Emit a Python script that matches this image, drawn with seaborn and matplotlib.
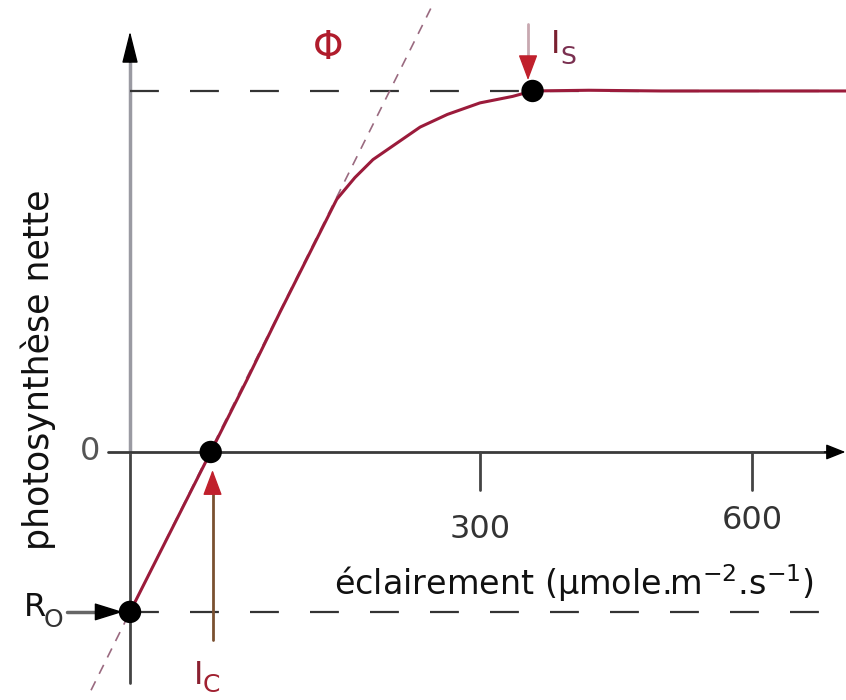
import numpy as np
import pandas as pd
import matplotlib
matplotlib.use('Agg')
import matplotlib.pyplot as plt
import seaborn as sns

# light response curve (schematic units)
irradiance = [-86, 3, 43, 79, 116, 142, 152, 162, 182, 208, 234, 264, 300,
              336, 358, 420, 500, 600, 704]
photosynthesis = [-4.43, 0.0, 2.0, 3.85, 5.7, 7.0, 7.3, 7.6, 8.1, 8.55, 9.0,
                  9.35, 9.67, 9.85, 10.0, 10.02, 10.0, 10.0, 10.0]

# initial slope (quantum yield) line
phi_x = [-129, 248]
phi_y = [-6.6, 12.4]

# remarkable points: R0, Ic, Is
key_names = ['R0', 'Ic', 'Is']
key_x = [-86, 3, 358]
key_y = [-4.43, 0.0, 10.0]

p_max = 10.0
x_ticks = [300, 600]
x_tick_labels = ['300', '600']
y_axis_x = -86

sns.set_theme(style="white")
plt.rcParams['font.family'] = ['DejaVu Sans']

curve_df = pd.DataFrame({'x': irradiance, 'y': photosynthesis})
phi_df = pd.DataFrame({'x': phi_x, 'y': phi_y})
pts_df = pd.DataFrame({'name': key_names, 'x': key_x, 'y': key_y})

fig = plt.figure(figsize=(8.46, 7), dpi=100)
ax = fig.add_axes([0, 0, 1, 1])
ax.set_xlim(-229.4, 703.7)
ax.set_ylim(-6.87, 12.52)
ax.axis('off')

dark = '#333333'
red = '#9b1b3b'


def head(color, length=0.8, width=0.3, scale=20):
    return dict(arrowstyle='-|>,head_length={},head_width={}'.format(length, width),
                lw=1, fc=color, ec=color, mutation_scale=scale,
                shrinkA=0, shrinkB=0)


# dashed reference levels
ax.plot([y_axis_x, 704], [p_max, p_max], color=dark, lw=1.6,
        dashes=(13, 14))
ax.plot([y_axis_x, 704], [key_y[0], key_y[0]], color=dark, lw=1.6,
        dashes=(13, 14))

# tangent line
sns.lineplot(data=phi_df, x='x', y='y', ax=ax, color='#9a6a80', lw=1.2,
             sort=False, legend=False)
ax.lines[-1].set_dashes((6, 5))

# axes
ax.plot([y_axis_x, y_axis_x], [-6.4, 0], color='#444444', lw=2, zorder=1)
ax.plot([y_axis_x, y_axis_x], [0, 11.0], color='#9a9aa2', lw=2.5, zorder=1)
ax.annotate('', xy=(y_axis_x, 11.65), xytext=(y_axis_x, 10.8),
            arrowprops=head('black', 1.0, 0.25))
ax.plot([-110, 690], [0, 0], color='#3a3a3a', lw=2, zorder=1)
ax.annotate('', xy=(703, 0), xytext=(680, 0),
            arrowprops=head('black', 0.6, 0.24))

for t, lab, ly in zip(x_ticks, x_tick_labels, [-2.16, -1.9]):
    ax.plot([t, t], [0, -1.05], color='#444444', lw=2)
    ax.text(t, ly, lab, ha='center', va='center', fontsize=23,
            color='#333333')

ax.text(-130, 0, '0', ha='center', va='center', fontsize=23, color='#555555')

# response curve
sns.lineplot(data=curve_df, x='x', y='y', ax=ax, color=red, lw=2.2,
             sort=False, legend=False)

sns.scatterplot(data=pts_df, x='x', y='y', ax=ax, color='black', s=260,
                edgecolor='none', zorder=5, legend=False)

# labels
ax.text(404, -3.63, 'éclairement (µmole.m$^{-2}$.s$^{-1}$)', ha='center',
        va='center', fontsize=24, color='#111111')
ax.text(-187, 2.27, 'photosynthèse nette', rotation=90, ha='center',
        va='center', fontsize=25, color='#111111')

ax.text(132, 11.19, 'Φ', ha='center', va='center', fontsize=28,
        color='#b01c2c')

# Is
ax.plot([key_x[2] - 5, key_x[2] - 5], [11.85, 10.8], color='#c8a8b0', lw=2)
ax.annotate('', xy=(key_x[2] - 5, 10.3), xytext=(key_x[2] - 5, 10.9),
            arrowprops=head('#c0202c'))
ax.text(383, 11.3, 'I', ha='center', va='center', fontsize=23,
        color='#7a2030')
ax.text(397, 10.95, 'S', ha='center', va='center', fontsize=18,
        color='#7a3050')

# Ic
ax.plot([key_x[1] + 2, key_x[1] + 2], [-5.2, -1.0], color='#7a5030', lw=2)
ax.annotate('', xy=(key_x[1] + 2, -0.5), xytext=(key_x[1] + 2, -1.1),
            arrowprops=head('#c0202c'))
ax.text(-10, -6.18, 'I', ha='center', va='center', fontsize=23,
        color='#8a2030')
ax.text(4, -6.45, 'C', ha='center', va='center', fontsize=18,
        color='#a02030')

# R0
ax.plot([-155, -110], [key_y[0], key_y[0]], color='#666666', lw=2.5)
ax.annotate('', xy=(y_axis_x - 8, key_y[0]), xytext=(-112, key_y[0]),
            arrowprops=head('black', 0.9, 0.28))
ax.text(-191, -4.3, 'R', ha='center', va='center', fontsize=23,
        color='#111111')
ax.text(-171, -4.65, 'O', ha='center', va='center', fontsize=18,
        color='#333333')

fig.savefig('out.png', dpi=100)
